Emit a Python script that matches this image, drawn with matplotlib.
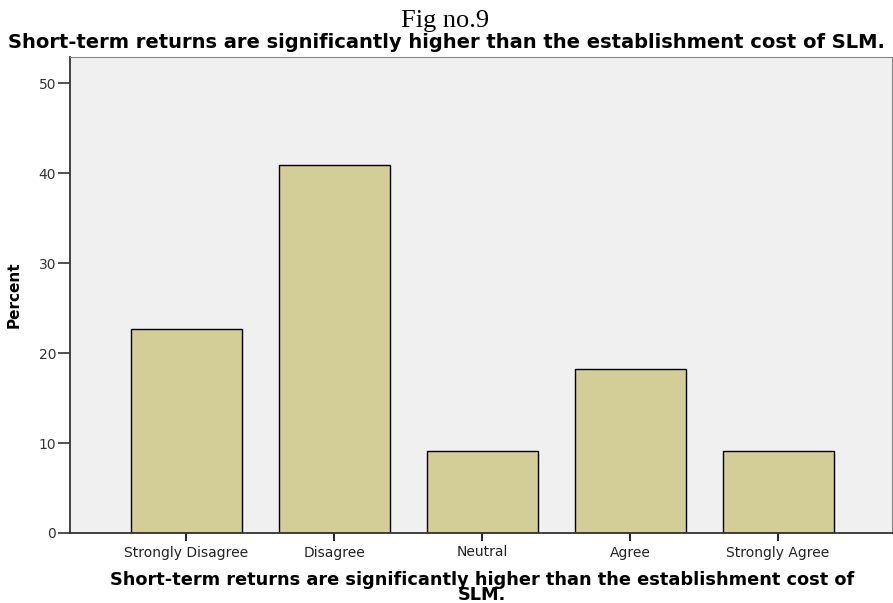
import matplotlib.pyplot as plt

categories = ["Strongly Disagree", "Disagree", "Neutral", "Agree", "Strongly Agree"]
percent = [22.7, 40.9, 9.1, 18.2, 9.1]
yticks = [0, 10, 20, 30, 40, 50]

plt.rcParams['font.family'] = ['DejaVu Sans']

fig = plt.figure(figsize=(8.93, 6.03), dpi=100)
ax = fig.add_axes([70 / 893, 1 - 533 / 603, 822 / 893, 476 / 603])
ax.set_facecolor('#F0F0F0')

x = range(len(categories))
ax.bar(x, percent, width=0.75, color='#D3CE97', edgecolor='black', linewidth=1.0)

ax.set_xlim(-0.784, 4.77)
ax.set_ylim(0, 52.9)
ax.set_yticks(yticks)
ax.set_xticks(list(x))
ax.set_xticklabels(categories, fontsize=10, color='#222222')
ax.tick_params(axis='y', length=9, width=1.2, labelsize=10, colors='#333333', pad=1)
ax.tick_params(axis='x', length=6, width=1.2, pad=3)

for side in ['left', 'bottom']:
    ax.spines[side].set_color('#333333')
    ax.spines[side].set_linewidth(1.3)
for side in ['top', 'right']:
    ax.spines[side].set_color('#888888')
    ax.spines[side].set_linewidth(0.8)

ax.set_ylabel("Percent", fontsize=11, fontweight='bold', labelpad=12)
ax.set_xlabel("Short-term returns are significantly higher than the establishment cost of\nSLM.",
              fontsize=12.8, fontweight='bold', linespacing=0.75)
ax.xaxis.set_label_coords((482 - 70) / 822, -0.08)

fig.text(445 / 893, 1 - 21 / 603, "Fig no.9", ha='center', va='center',
         fontsize=19, family=['Liberation Serif', 'DejaVu Serif'])
fig.text(446 / 893, 1 - 42 / 603, "Short-term returns are significantly higher than the establishment cost of SLM.",
         ha='center', va='center', fontsize=14, fontweight='bold')

fig.savefig("out.png", dpi=100)
